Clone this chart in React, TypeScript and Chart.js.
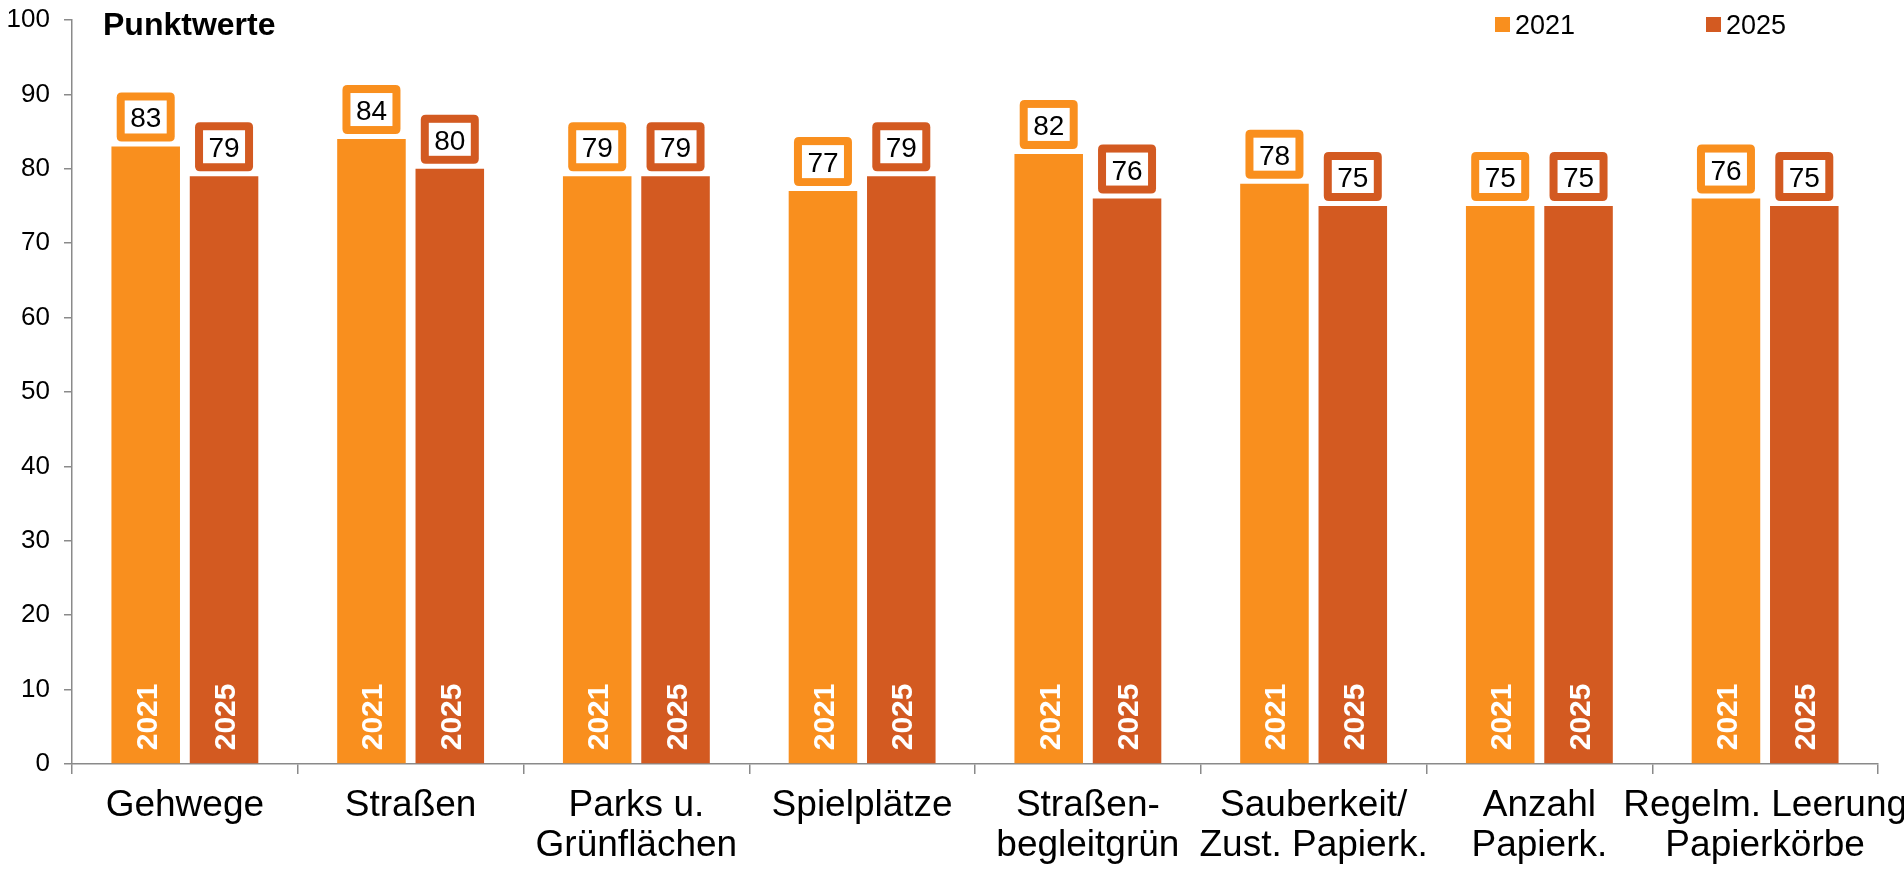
import React, { useEffect, useRef } from 'react';
import { Chart, registerables } from 'chart.js';

Chart.register(...registerables);

const categories: (string | string[])[] = [
  'Gehwege',
  'Straßen',
  ['Parks u.', 'Grünflächen'],
  'Spielplätze',
  ['Straßen-', 'begleitgrün'],
  ['Sauberkeit/', 'Zust. Papierk.'],
  ['Anzahl', 'Papierk.'],
  ['Regelm. Leerung', 'Papierkörbe'],
];
const values2021 = [83, 84, 79, 77, 82, 78, 75, 76];
const values2025 = [79, 80, 79, 79, 76, 75, 75, 75];
const seriesLabels = ['2021', '2025'];
const chartTitle = 'Punktwerte';
const yMin = 0;
const yMax = 100;
const yStep = 10;

const COLORS = ['#F98F1E', '#D35A21'];
const AXIS = '#8A8A8A';
const FONT = "'Liberation Sans', Arial, Helvetica, sans-serif";

function roundRect(ctx: CanvasRenderingContext2D, x: number, y: number, w: number, h: number, r: number) {
  ctx.beginPath();
  ctx.moveTo(x + r, y);
  ctx.lineTo(x + w - r, y);
  ctx.quadraticCurveTo(x + w, y, x + w, y + r);
  ctx.lineTo(x + w, y + h - r);
  ctx.quadraticCurveTo(x + w, y + h, x + w - r, y + h);
  ctx.lineTo(x + r, y + h);
  ctx.quadraticCurveTo(x, y + h, x, y + h - r);
  ctx.lineTo(x, y + r);
  ctx.quadraticCurveTo(x, y, x + r, y);
  ctx.closePath();
}

const labelPlugin = {
  id: 'barLabels',
  afterDatasetsDraw(chart: any) {
    const ctx: CanvasRenderingContext2D = chart.ctx;
    chart.data.datasets.forEach((ds: any, di: number) => {
      const meta = chart.getDatasetMeta(di);
      const color = ds.backgroundColor as string;
      meta.data.forEach((bar: any, i: number) => {
        const v = ds.data[i];
        const { x, y, base } = bar.getProps(['x', 'y', 'base'], true);
        // rotated year inside bar
        ctx.save();
        ctx.translate(x + 11, base - 13);
        ctx.rotate(-Math.PI / 2);
        ctx.font = `bold 30px ${FONT}`;
        ctx.fillStyle = '#FFFFFF';
        ctx.textAlign = 'left';
        ctx.textBaseline = 'alphabetic';
        ctx.fillText(String(ds.label), 0, 0);
        ctx.restore();
        // value box
        const w = 58, h = 49, bw = 8;
        const bx = x - w / 2;
        const by = y - 5 - h;
        ctx.save();
        ctx.fillStyle = color;
        roundRect(ctx, bx, by, w, h, 5);
        ctx.fill();
        ctx.fillStyle = '#FFFFFF';
        ctx.fillRect(bx + bw, by + bw, w - 2 * bw, h - 2 * bw);
        ctx.fillStyle = '#000000';
        ctx.font = `28px ${FONT}`;
        ctx.textAlign = 'center';
        ctx.textBaseline = 'alphabetic';
        ctx.fillText(String(v), x, by + h / 2 + 10.5);
        ctx.restore();
      });
    });
  },
  afterDraw(chart: any) {
    const ctx: CanvasRenderingContext2D = chart.ctx;
    ctx.save();
    ctx.fillStyle = '#000000';
    ctx.font = `bold 32px ${FONT}`;
    ctx.textAlign = 'left';
    ctx.textBaseline = 'alphabetic';
    ctx.fillText(chartTitle, 103, 35);
    // legend
    const legendX = [1495, 1706];
    chart.data.datasets.forEach((ds: any, di: number) => {
      const lx = legendX[di];
      ctx.fillStyle = ds.backgroundColor;
      ctx.fillRect(lx, 17, 15, 15);
      ctx.fillStyle = '#000000';
      ctx.font = `27px ${FONT}`;
      ctx.fillText(String(ds.label), lx + 20, 34);
    });
    ctx.restore();
  },
};

export default function App() {
  const ref = useRef<HTMLCanvasElement | null>(null);
  useEffect(() => {
    if (!ref.current) return;
    const chart = new Chart(ref.current, {
      type: 'bar',
      data: {
        labels: categories,
        datasets: [
          { label: seriesLabels[0], data: values2021, backgroundColor: COLORS[0], borderWidth: 0 },
          { label: seriesLabels[1], data: values2025, backgroundColor: COLORS[1], borderWidth: 0 },
        ],
      },
      options: {
        animation: false,
        responsive: true,
        maintainAspectRatio: false,
        devicePixelRatio: 1,
        categoryPercentage: 0.694,
        barPercentage: 0.875,
        layout: { padding: { left: 0, top: 20, right: 26, bottom: 0 } },
        plugins: {
          legend: { display: false },
          tooltip: { enabled: false },
          title: { display: false },
        },
        scales: {
          x: {
            offset: true,
            grid: {
              display: true,
              drawOnChartArea: false,
              drawTicks: true,
              tickLength: 10,
              color: AXIS,
              lineWidth: 1.5,
              offset: true,
            },
            border: { display: true, color: AXIS, width: 1.5 },
            ticks: {
              color: '#000000',
              font: { family: FONT, size: 37, lineHeight: 40 / 37 },
              padding: 12,
              maxRotation: 0,
              minRotation: 0,
              autoSkip: false,
            },
            afterFit: (scale: any) => {
              scale.height = 108;
              scale.paddingLeft = 0;
              scale.paddingRight = 0;
            },
          },
          y: {
            min: yMin,
            max: yMax,
            grid: {
              display: true,
              drawOnChartArea: false,
              drawTicks: true,
              tickLength: 8,
              color: AXIS,
              lineWidth: 1.5,
            },
            border: { display: true, color: AXIS, width: 1.5 },
            ticks: {
              stepSize: yStep,
              color: '#000000',
              font: { family: FONT, size: 26 },
              padding: 14,
            },
            afterFit: (scale: any) => {
              scale.width = 72;
              scale.paddingTop = 0;
              scale.paddingBottom = 0;
            },
          },
        },
      },
      plugins: [labelPlugin],
    });
    return () => chart.destroy();
  }, []);
  return (
    <div style={{ position: 'fixed', left: 0, top: 0, width: 1904, height: 872, background: '#FFFFFF' }}>
      <canvas ref={ref} />
    </div>
  );
}
